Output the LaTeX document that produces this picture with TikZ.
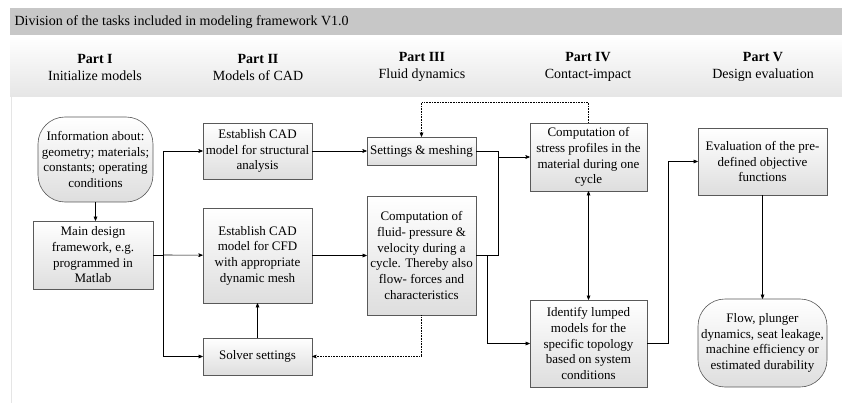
\documentclass[tikz,border=0pt]{standalone}
\usepackage{fontspec}
\setmainfont{Liberation Serif}
\usepackage{tikz}
\usetikzlibrary{arrows}

\tikzset{
  box/.style={draw=black!65, top color=white, bottom color=black!13, align=center,
    inner sep=1pt, font=\fontsize{13}{15.7}\selectfont},
  term/.style={box, rounded corners=27pt},
  part/.style={align=center, font=\fontsize{14}{17}\selectfont},
}

\begin{document}
\begin{tikzpicture}[x=1pt,y=-1pt,>=stealth',semithick]
  \useasboundingbox (0,0) rectangle (842,403);
  % heading
  \fill[black!22] (10,8) rectangle (842,36);
  \shade[top color=white,bottom color=black!10] (10,36) rectangle (842,97);
  \draw[black!10] (11,97) -- (11,403);
  \node[anchor=west,font=\fontsize{14}{17}\selectfont] (title) at (11,22)
    {Division of the tasks included in modeling framework V1.0};
  \node[part] (p1) at (95,67)  {\textbf{Part I}\\Initialize models};
  \node[part] (p2) at (258,67) {\textbf{Part II}\\Models of CAD};
  \node[part] (p3) at (422,67) {\textbf{Part III}\\Fluid dynamics};
  \node[part] (p4) at (588,67) {\textbf{Part IV}\\Contact-impact};
  \node[part] (p5) at (763,67) {\textbf{Part V}\\Design evaluation};

  % tasks
  \node[term,minimum width=115pt,minimum height=85pt] (info) at (95.5,159.5)
    {Information about:\\geometry; materials;\\constants; operating\\conditions};
  \node[box,minimum width=120pt,minimum height=68pt] (main) at (93,255)
    {Main design\\framework, e.g.\\programmed in\\Matlab};
  \node[box,minimum width=109pt,minimum height=56pt] (cad1) at (257.5,151)
    {Establish CAD\\model for structural\\analysis};
  \node[box,minimum width=109pt,minimum height=95pt] (cad2) at (257.5,255.5)
    {Establish CAD\\model for CFD\\with appropriate\\dynamic mesh};
  \node[box,minimum width=109pt,minimum height=37pt] (solv) at (257.5,356.5)
    {Solver settings};
  \node[box,minimum width=109pt,minimum height=28pt] (mesh) at (421.5,151)
    {Settings \& meshing};
  \node[box,minimum width=109pt,minimum height=119pt] (fluid) at (421.5,255.5)
    {Computation of\\fluid- pressure \&\\velocity during a\\cycle. Thereby also\\flow- forces and\\characteristics};
  \node[box,minimum width=117pt,minimum height=68pt] (stress) at (588.5,157)
    {Computation of\\stress profiles in the\\material during one\\cycle};
  \node[box,minimum width=117pt,minimum height=87pt] (lump) at (588.5,343.5)
    {Identify lumped\\models for the\\specific topology\\based on system\\conditions};
  \node[box,minimum width=129pt,minimum height=67pt] (eval) at (762.5,161.5)
    {Evaluation of the pre-\\defined objective\\functions};
  \node[term,minimum width=129pt,minimum height=88pt] (flow) at (762.5,343)
    {Flow, plunger\\dynamics, seat leakage,\\machine efficiency or\\estimated durability};

  \coordinate (j1) at (163,255);
  \coordinate (j2) at (498,157);
  \coordinate (j3) at (487,255.5);

  \path[->] (info.south) edge (info.south |- main.north)
        (j1) edge (cad2)
        (solv) edge (cad2)
        (cad1) edge (mesh)
        (cad2) edge (fluid)
        (j2) edge (stress.west)
        (eval) edge (flow);
  \draw (main.east) -- (j1);
  \draw[->] (j1) |- (cad1);
  \draw[->] (j1) |- (solv);
  \draw (mesh.east) -| (j2);
  \draw (fluid.east) -| (j2);
  \draw[->] (j3) |- (lump.west);
  \draw[<->] (stress) -- (lump);
  \draw[->] (lump.east) -- ++(20.5,0) |- (eval.west);
  \draw[->,densely dotted] (stress.north) -- ++(0,-20) -| (mesh.north);
  \draw[->,densely dotted] (fluid.south) |- (solv.east);
\end{tikzpicture}
\end{document}
